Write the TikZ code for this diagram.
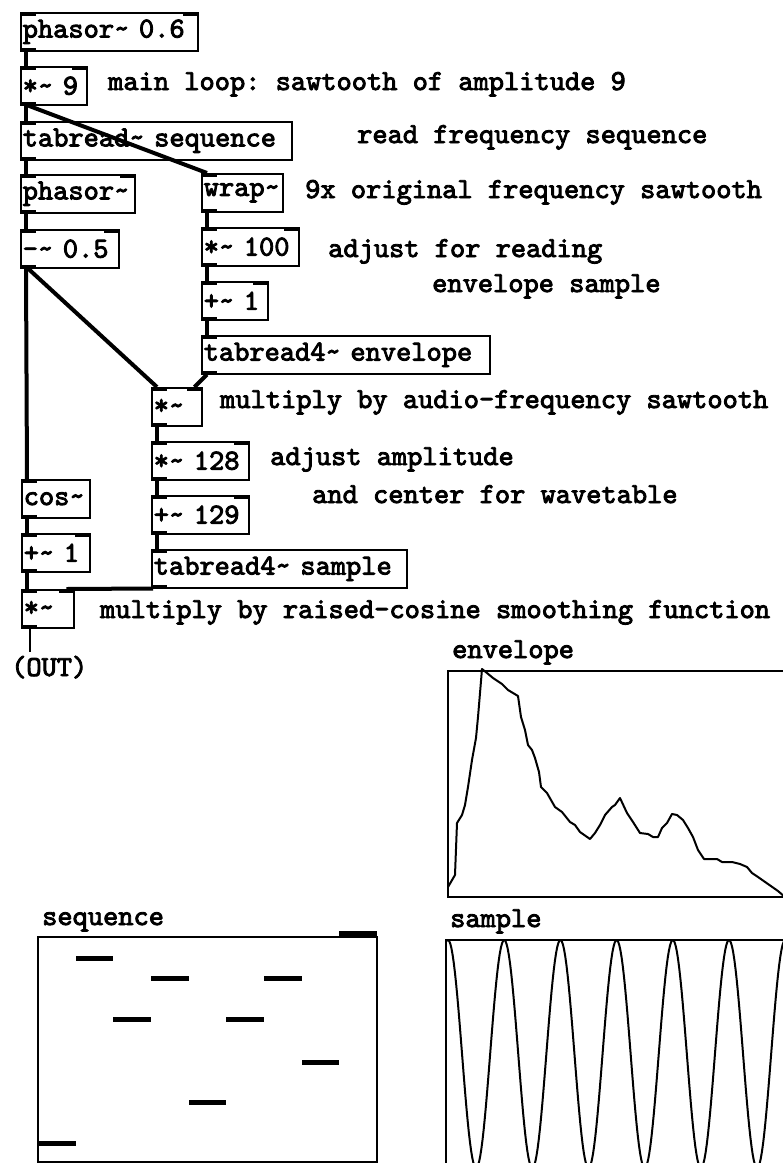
\documentclass[tikz,border=0pt]{standalone}
\usepackage{fontspec}
\newfontfamily\pdmono{lmmono10-regular.otf}[RawFeature={embolden=3}]
\usetikzlibrary{calc}

\newcommand{\pdfont}{\fontsize{29}{32}\selectfont\pdmono\frenchspacing}
\newcommand{\tld}{\char`\~}
% inlets and outlets of a box
\newcommand{\inl}[1]{\fill (#1.north west) rectangle ++(16,4);}
\newcommand{\inr}[1]{\fill (#1.north east) rectangle ++(-16,4);}
\newcommand{\outl}[1]{\fill (#1.south west) rectangle ++(16,-4);}

\begin{document}
\begin{tikzpicture}[x=1pt, y=-1pt,
    obj/.style={draw, line width=1.5pt, anchor=north west, inner xsep=2pt, inner ysep=0pt, minimum height=38pt, align=left, font=\pdfont},
    note/.style={anchor=base west, inner sep=0pt, font=\pdfont},
    sig/.style={line width=4pt},
    ctl/.style={line width=1.5pt},
    tab/.style={draw, line width=1.5pt},
    curve/.style={line width=2pt, line join=round}
]
\fill[white] (0,0) rectangle (783,1163);
\useasboundingbox (0,0) rectangle (783,1163);

% objects
\node[obj, text width=173pt] (p06) at (20,12) {phasor\tld{} 0.6};
\node[obj, text width=62pt] (m9) at (20,66) {*\tld{} 9};
\node[obj, text width=267pt] (tseq) at (20,121) {tabread\tld{} sequence};
\node[obj, text width=110pt] (ph) at (20,174) {phasor\tld};
\node[obj, text width=94pt] (sub) at (20,229) {-\tld{} 0.5};
\node[obj, text width=77pt] (wrap) at (201,173) {wrap\tld};
\node[obj, text width=93pt] (m100) at (201,227) {*\tld{} 100};
\node[obj, text width=62pt] (p1) at (201,281) {+\tld{} 1};
\node[obj, text width=284pt] (tenv) at (201,335) {tabread4\tld{} envelope};
\node[obj, text width=46pt] (mA) at (151,387) {*\tld};
\node[obj, text width=93pt] (m128) at (151,441) {*\tld{} 128};
\node[obj, text width=93pt] (p129) at (151,495) {+\tld{} 129};
\node[obj, text width=251pt] (tsmp) at (151,549) {tabread4\tld{} sample};
\node[obj, text width=64pt] (cosn) at (21,479) {cos\tld};
\node[obj, text width=64pt] (p1b) at (21,533) {+\tld{} 1};
\node[obj, text width=48pt] (mB) at (21,589) {*\tld};
\coordinate (out) at (30,652);

% ports
\foreach \n in {p06,m9,ph,sub,m100,p1,mA,m128,p129,p1b,mB} {\inl{\n}\inr{\n}}
\foreach \n in {tseq,wrap,tenv,tsmp,cosn} {\inl{\n}}
\foreach \n in {p06,m9,tseq,ph,sub,wrap,m100,p1,tenv,mA,m128,p129,tsmp,cosn,p1b,mB} {\outl{\n}}

% connections
\draw[sig] ([xshift=6pt]p06.south west) -- ([xshift=6pt]m9.north west);
\draw[sig] ([xshift=6pt]m9.south west) -- ([xshift=6pt]tseq.north west);
\draw[sig] ([xshift=8pt]m9.south west) -- ([xshift=6pt]wrap.north west);
\draw[sig] ([xshift=6pt]tseq.south west) -- ([xshift=6pt]ph.north west);
\draw[sig] ([xshift=6pt]ph.south west) -- ([xshift=6pt]sub.north west);
\draw[sig] ([xshift=6pt]sub.south west) -- ([xshift=6pt]cosn.north west);
\draw[sig] ([xshift=8pt]sub.south west) -- ([xshift=6pt]mA.north west);
\draw[sig] ([xshift=6pt]wrap.south west) -- ([xshift=6pt]m100.north west);
\draw[sig] ([xshift=6pt]m100.south west) -- ([xshift=6pt]p1.north west);
\draw[sig] ([xshift=6pt]p1.south west) -- ([xshift=6pt]tenv.north west);
\draw[sig] ([xshift=6pt]tenv.south west) -- ([xshift=-8pt]mA.north east);
\draw[sig] ([xshift=6pt]mA.south west) -- ([xshift=6pt]m128.north west);
\draw[sig] ([xshift=6pt]m128.south west) -- ([xshift=6pt]p129.north west);
\draw[sig] ([xshift=6pt]p129.south west) -- ([xshift=6pt]tsmp.north west);
\draw[sig] ([xshift=2pt]tsmp.south west) -- ([xshift=-8pt]mB.north east);
\draw[sig] ([xshift=6pt]cosn.south west) -- ([xshift=6pt]p1b.north west);
\draw[sig] ([xshift=6pt]p1b.south west) -- ([xshift=6pt]mB.north west);
\draw[ctl] ([xshift=9pt]mB.south west) -- (out);

% comments
\node[note] (c1) at (108,90) {main loop: sawtooth of amplitude 9};
\node[note] (c2) at (357,143) {read frequency sequence};
\node[note] (c3) at (305,198) {9x original frequency sawtooth};
\node[note] (c4) at (328,257) {adjust for reading};
\node[note] (c5) at (432,292) {envelope sample};
\node[note] (c6) at (220,408) {multiply by audio-frequency sawtooth};
\node[note] (c7) at (270,465) {adjust amplitude};
\node[note] (c8) at (312,503) {and center for wavetable};
\node[note] (c9) at (100,618) {multiply by raised-cosine smoothing function};
\node[note] (outlbl) at (11,676) {(OUT)};

% arrays
\node[note] (envlbl) at (452,658) {envelope};
\node[note] (smplbl) at (450,927) {sample};
\node[note] (seqlbl) at (42,925) {sequence};

\begin{scope}
\clip (0,0) rectangle (783,1163);
\draw[tab] (800,671) -- (448,671) -- (448,897) -- (800,897);
\draw[curve] plot coordinates {(448,887) (455,875) (457,823) (462,815) (465,805) (468,787)
  (472,760) (476,738) (478,717) (482,669) (487,673) (493,678) (502,684) (508,690)
  (518,696) (521,717) (525,730) (528,745) (532,750) (535,758) (539,772) (541,787)
  (547,793) (555,807) (562,812) (570,822) (575,825) (580,832) (590,839) (595,833)
  (600,825) (605,815) (612,807) (615,805) (620,798) (627,813) (633,822) (640,833)
  (648,834) (653,837) (658,837) (662,828) (667,823) (672,814) (677,815) (683,820)
  (688,828) (693,837) (698,850) (704,859) (717,859) (722,862) (732,862) (740,864)
  (747,867) (752,873) (758,877) (768,884) (778,891) (785,897)};

\draw[tab] (800,940) -- (446,940) -- (446,1170);
\draw[curve] plot[domain=-0.02:6.1, samples=300, variable=\t] ({448+56.2*\t}, {940+114*(1-cos(360*\t))});

\draw[tab] (38,937) rectangle (377,1162);
\foreach \i/\v in {0/1143,1/958,2/1019,3/978,4/1102,5/1019,6/978,7/1062,8/933}
  \fill (38+37.67*\i,\v-2.5) rectangle ++(37.67,5);
\end{scope}
\end{tikzpicture}
\end{document}
